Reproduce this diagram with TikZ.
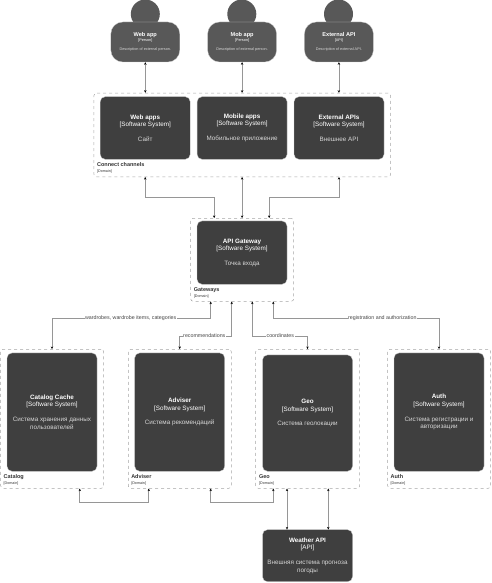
\documentclass[tikz,border=0pt]{standalone}
\usepackage{fontspec}
\setmainfont{Liberation Sans}
\usetikzlibrary{arrows.meta, positioning}
\definecolor{sysgray}{RGB}{63,63,63}
\definecolor{persongray}{RGB}{88,88,88}
\definecolor{linegray}{RGB}{150,150,150}
\definecolor{dashgray}{RGB}{165,165,165}
\definecolor{descgray}{RGB}{215,215,215}
\definecolor{labelgray}{RGB}{70,70,70}
\newcommand{\fsize}[1]{\fontsize{#1}{#1}\selectfont}
\newcommand{\systext}[3]{{\bfseries #1}\\[0pt]#2\\[7.3pt]{\color{descgray}#3}}
\newcommand{\persontext}[3]{{\fsize{5.6}\bfseries #1}\\[0pt]{#2}\\[3.3pt]{\color{descgray}#3}}
\newcommand{\domaintext}[1]{{\fsize{5.5}\bfseries #1}\\[0pt]{[Domain]}}

\begin{document}
\begin{tikzpicture}[
    x=1pt, y=-1pt,
    sys/.style={rectangle, rounded corners=5pt, fill=sysgray, draw=white!80!black, line width=0.3pt,
                minimum width=90pt, minimum height=#1, inner sep=1pt, text width=84pt, align=flush center,
                text=white, font=\fontsize{6.3}{7.5}\selectfont},
    sys/.default=62.6pt,
    body/.style={rectangle, rounded corners=12pt, fill=persongray, draw=white!80!black, line width=0.3pt,
                 minimum width=69pt, minimum height=40pt, inner sep=1pt, align=center, text=white,
                 font=\fontsize{3.8}{5.7}\selectfont},
    head/.style={circle, fill=persongray, minimum size=29pt, inner sep=0pt},
    domain/.style={rectangle, draw=dashgray, dashed, line width=0.5pt, rounded corners=2.5pt,
                   minimum width=#1, inner sep=0pt},
    domainlabel/.style={anchor=south west, inner sep=0pt, align=left, text=black!80,
                        font=\fontsize{3.7}{5.7}\selectfont},
    link/.style={{Stealth[black,length=2.6pt,width=2.4pt]}-{Stealth[black,length=2.6pt,width=2.4pt]},
                 linegray, line width=0.8pt},
    thinlink/.style={link, line width=0.5pt},
    linklabel/.style={fill=white, inner sep=0.5pt, text=labelgray, font=\fsize{5.3}},
]
    \useasboundingbox (0,0) rectangle (492,583);

    % Persons
    \node[head] (webhead) at (145.3,14) {};
    \node[head] (mobhead) at (241.8,14) {};
    \node[head] (exthead) at (338.5,14) {};
    \node[body] (webuser) at (145.3,42) {\persontext{Web app}{[Person]}{Description of external person.}};
    \node[body, right=27.5pt of webuser] (mobuser) {\persontext{Mob app}{[Person]}{Description of external person.}};
    \node[body, right=27.5pt of mobuser] (extuser) {\persontext{External API}{[API]}{Description of external API.}};

    % Connect channels
    \node[domain=296.7pt, minimum height=83.7pt] (channels) at (242.3,134.9) {};
    \node[sys] (webapps) at (145.2,128) {\systext{Web apps}{[Software System]}{Сайт}};
    \node[sys, right=6.6pt of webapps] (mobapps) {\systext{Mobile apps}{[Software System]}{Мобильное приложение}};
    \node[sys, right=6.6pt of mobapps] (extapis) {\systext{External APIs}{[Software System]}{Внешнее API}};
    \node[domainlabel] (channelslabel) at ([shift={(3.2,-3.4)}]channels.south west) {\domaintext{Connect channels}};

    % Gateways
    \node[domain=103pt, minimum height=83pt] (gateways) at (242.2,259.8) {};
    \node[sys=63.3pt] (gateway) at (242,252.6) {\systext{API Gateway}{[Software System]}{Точка входа}};
    \node[domainlabel] (gatewayslabel) at ([shift={(3.2,-3.4)}]gateways.south west) {\domaintext{Gateways}};

    % Domains
    \node[domain=103pt, minimum height=139pt] (catalog) at (52.2,418.8) {};
    \node[sys=118.3pt] (cache) at (52,412.1) {\systext{Catalog Cache}{[Software System]}{Система хранения данных пользователей}};
    \node[domainlabel] (cataloglabel) at ([shift={(3,-3.4)}]catalog.south west) {\domaintext{Catalog}};

    \node[domain=103pt, minimum height=139pt] (adviser) at (179.8,418.8) {};
    \node[sys=118.3pt] (advsys) at (179.7,412.1) {\systext{Adviser}{[Software System]}{Система рекомендаций}};
    \node[domainlabel] (adviserlabel) at ([shift={(3,-3.4)}]adviser.south west) {\domaintext{Adviser}};

    \node[domain=104pt, minimum height=139pt] (geo) at (307.7,418.8) {};
    \node[sys=116.3pt] (geosys) at (307.5,413.1) {\systext{Geo}{[Software System]}{Система геолокации}};
    \node[domainlabel] (geolabel) at ([shift={(3.4,-3.4)}]geo.south west) {\domaintext{Geo}};

    \node[domain=103pt, minimum height=139pt] (auth) at (439.2,418.8) {};
    \node[sys=118.3pt] (authsys) at (439,412.1) {\systext{Auth}{[Software System]}{Система регистрации и авторизации}};
    \node[domainlabel] (authlabel) at ([shift={(3,-3.4)}]auth.south west) {\domaintext{Auth}};

    \node[sys=52pt] (weather) at (307.5,555.7) {\systext{Weather API}{[API]}{Внешняя система прогноза погоды}};

    % Links
    \draw[link] (webuser.south) -- (webuser.south |- channels.north);
    \draw[link] (mobuser.south) -- (mobuser.south |- channels.north);
    \draw[link] (extuser.south) -- (extuser.south |- channels.north);

    \draw[link] (webapps |- channels.south) -- ++(0,20.5) -| ([xshift=-28pt]gateways.north);
    \draw[link] (mobapps |- channels.south) -- (mobapps |- gateways.north);
    \draw[link] (extapis |- channels.south) -- ++(0,20.5) -| ([xshift=27pt]gateways.north);

    \draw[link] ([xshift=-31.5pt]gateways.south) -- ++(0,17) -| (cache |- catalog.north);
    \draw[link] ([xshift=-10.5pt]gateways.south) -- ++(0,34.4) -| (advsys |- adviser.north);
    \draw[link] ([xshift=10.1pt]gateways.south) -- ++(0,34.4) -| (geosys |- geo.north);
    \draw[link] ([xshift=31.1pt]gateways.south) -- ++(0,17) -| (authsys |- auth.north);
    \node[linklabel] (wardlabel) at (130.7,318.6) {wardrobes, wardrobe items, categories};
    \node[linklabel] (reclabel) at (204.3,336) {recommendations};
    \node[linklabel] (coordlabel) at (280.3,336) {coordinates};
    \node[linklabel] (reglabel) at (382.3,318.6) {registration and authorization};

    \draw[link] ([xshift=27.6pt]catalog.south) -- ++(0,14) -| ([xshift=-31pt]adviser.south);
    \draw[link] ([xshift=30.9pt]adviser.south) -- ++(0,14) -| ([xshift=-34.4pt]geo.south);

    \draw[link] ([xshift=-20.7pt]geo.south) -- ([xshift=-20.5pt]weather.north);
    \draw[thinlink] ([xshift=20.6pt]geo.south) -- ([xshift=20.8pt]weather.north);
\end{tikzpicture}
\end{document}
